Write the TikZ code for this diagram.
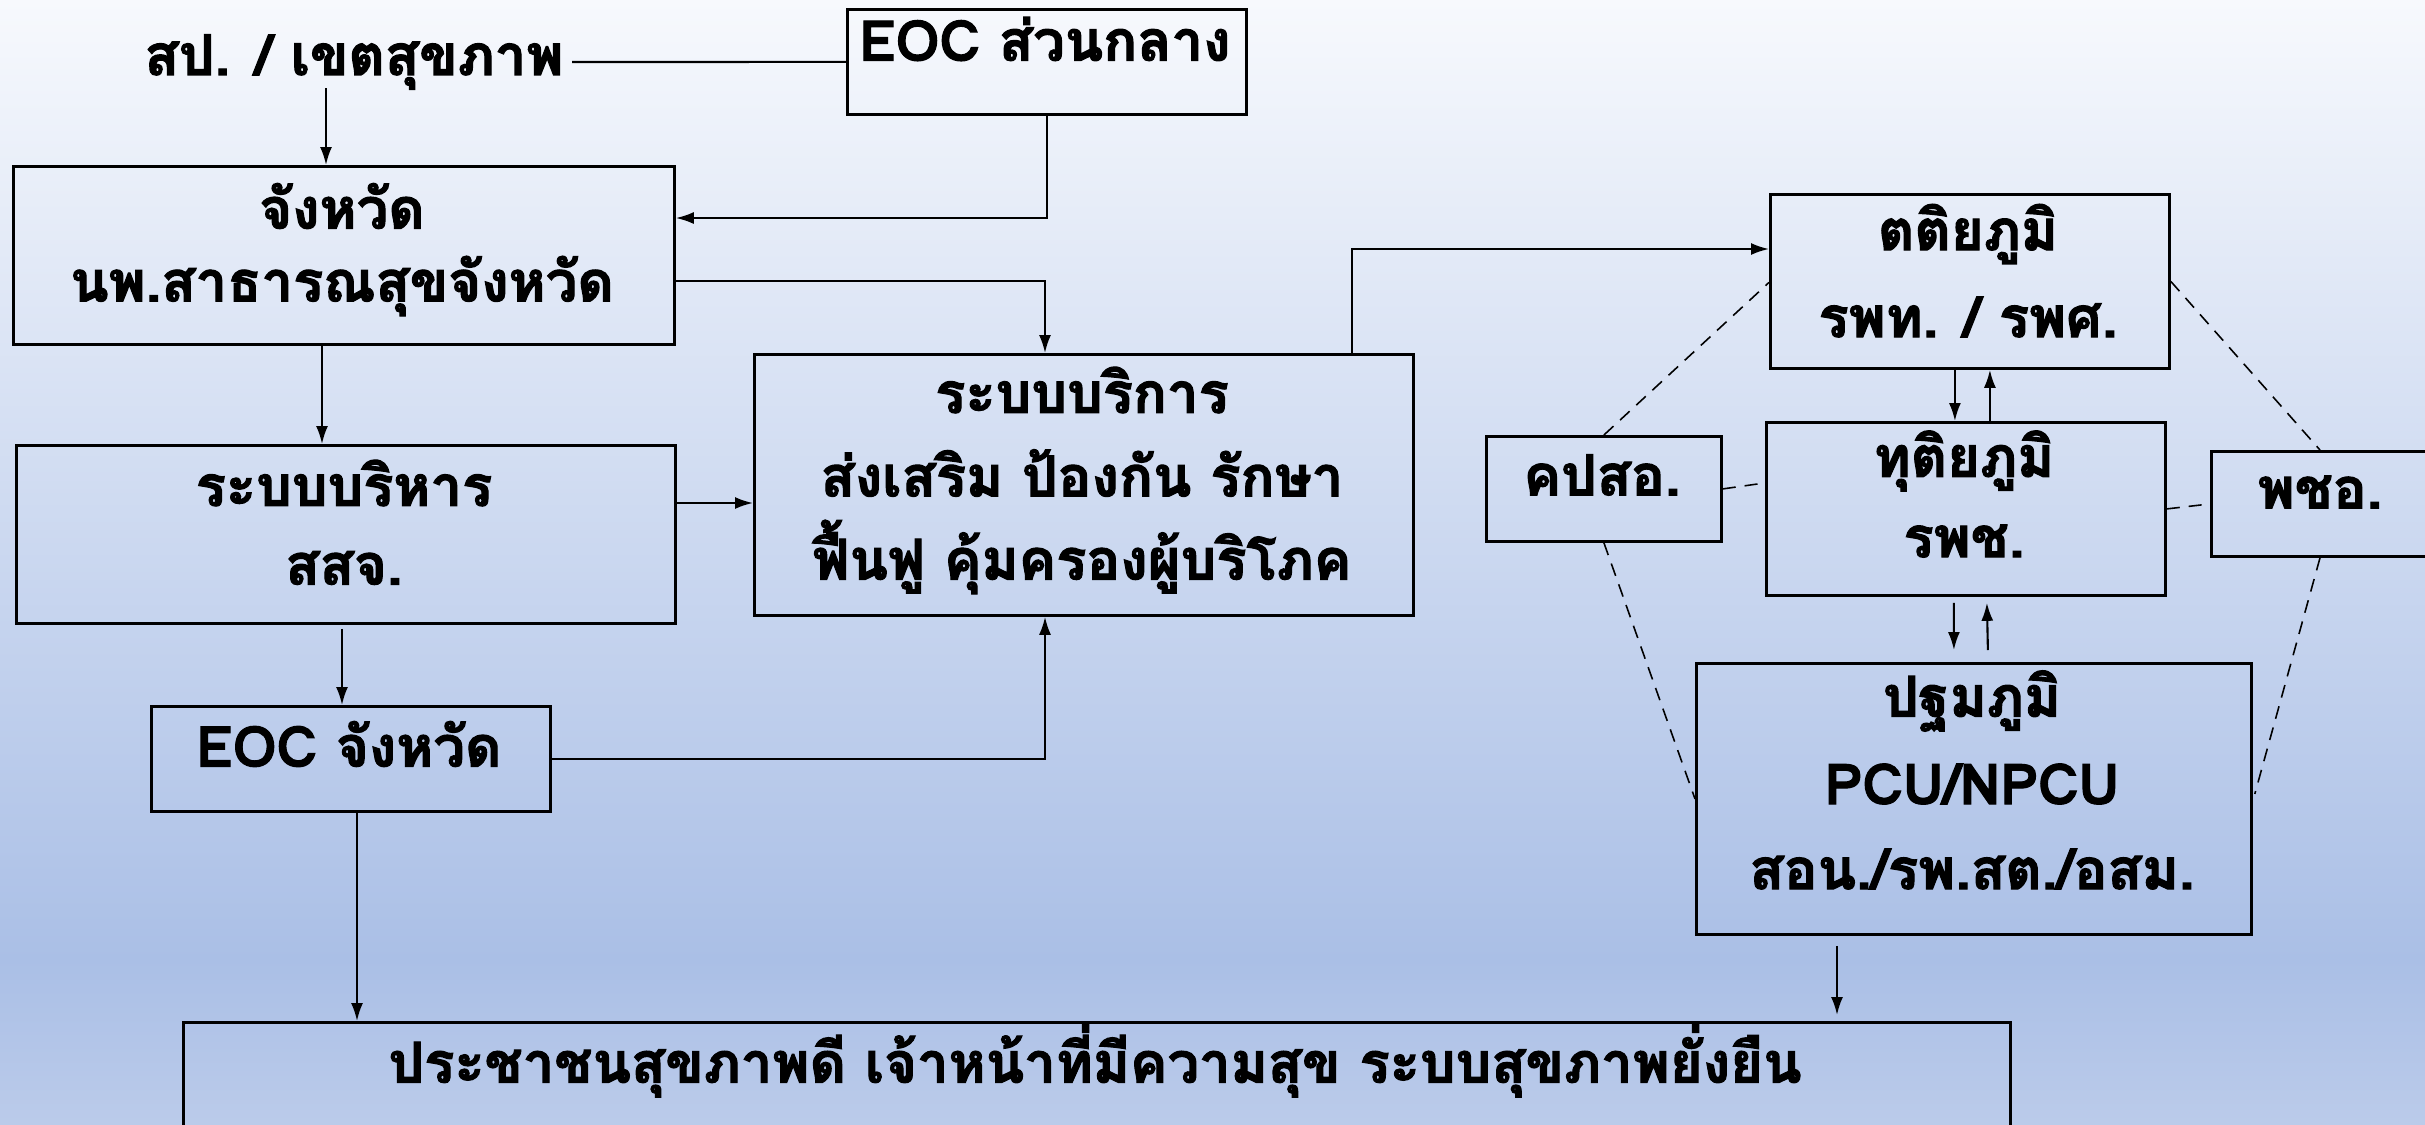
\documentclass[tikz,border=0pt]{standalone}
\usepackage{fontspec}
\setmainfont[Script=Thai,BoldFeatures={FakeBold=2}]{Loma}
\usetikzlibrary{calc,arrows.meta}
\definecolor{bgtop}{HTML}{F7F9FD}
\definecolor{bgmid}{HTML}{AABFE6}
\definecolor{bgbot}{HTML}{BBCBEA}
\tikzset{
  box/.style={draw=black,line width=0.8pt,anchor=north west,inner sep=0pt},
  lbl/.style={font=\fontsize{16}{18}\selectfont\bfseries,inner sep=0pt,anchor=center},
  arr/.style={draw=black,line width=0.6pt,-{Latex[length=1.8mm,width=1.2mm]}},
  ln/.style={draw=black,line width=0.6pt},
  dsh/.style={draw=black,line width=0.45pt,dash pattern=on 1.3mm off 0.9mm}
}
\begin{document}
\begin{tikzpicture}[x=0.1mm,y=-0.1mm]
\useasboundingbox (0,0) rectangle (2425,1124);
\clip (0,0) rectangle (2425,1124);
\shade[top color=bgtop,bottom color=bgmid] (0,0) rectangle (2425,960);
\shade[top color=bgmid,bottom color=bgbot] (0,959) rectangle (2425,1124);
% boxes
\node[box,minimum width=39.9mm,minimum height=10.5mm] (eoc0) at (846,8) {};
\node[box,minimum width=66.1mm,minimum height=17.8mm] (prov) at (12,165) {};
\node[box,minimum width=65.9mm,minimum height=26.1mm] (svc) at (753,353) {};
\node[box,minimum width=65.9mm,minimum height=17.8mm] (adm) at (15,444) {};
\node[box,minimum width=39.9mm,minimum height=10.5mm] (eocp) at (150,705) {};
\node[box,minimum width=182.7mm,minimum height=25mm] (goal) at (182,1021) {};
\node[box,minimum width=39.9mm,minimum height=17.4mm] (t3) at (1769,193) {};
\node[box,minimum width=39.9mm,minimum height=17.3mm] (t2) at (1765,421) {};
\node[box,minimum width=55.5mm,minimum height=27.1mm] (t1) at (1695,662) {};
\node[box,minimum width=23.5mm,minimum height=10.5mm] (kps) at (1485,435) {};
\node[box,minimum width=30mm,minimum height=10.5mm] (pcho) at (2210,450) {};
% texts
\node[lbl] (sp) at (354,62) {สป. / เขตสุขภาพ};
\node[lbl] (eoc0t) at (1045,39) {EOC ส่วนกลาง};
\node[lbl] (provt1) at (342,206) {จังหวัด};
\node[lbl] (provt2) at (342,286) {นพ.สาธารณสุขจังหวัด};
\node[lbl] (svct1) at (1082,390) {ระบบบริการ};
\node[lbl] (svct2) at (1082,473) {ส่งเสริม ป้องกัน รักษา};
\node[lbl] (svct3) at (1082,557) {ฟื้นฟู คุ้มครองผู้บริโภค};
\node[lbl] (admt1) at (344,483) {ระบบบริหาร};
\node[lbl] (admt2) at (344,568) {สสจ.};
\node[lbl] (eocpt) at (349,744) {EOC จังหวัด};
\node[lbl] (goalt) at (1095,1061) {ประชาชนสุขภาพดี เจ้าหน้าที่มีความสุข ระบบสุขภาพยั่งยืน};
\node[lbl] (t3t1) at (1968,234) {ตติยภูมิ};
\node[lbl] (t3t2) at (1968,317) {รพท. / รพศ.};
\node[lbl] (t2t1) at (1964,461) {ทุติยภูมิ};
\node[lbl] (t2t2) at (1964,541) {รพช.};
\node[lbl] (t1t1) at (1972,701) {ปฐมภูมิ};
\node[lbl] (t1t2) at (1972,784) {PCU/NPCU};
\node[lbl] (t1t3) at (1972,869) {สอน./รพ.สต./อสม.};
\node[lbl] (kpst) at (1602,475) {คปสอ.};
\node[lbl] (pchot) at (2320,492) {พชอ.};
% connectors
\draw[ln,shorten <=0.8mm] (sp.east) -- (eoc0.west);
\coordinate (a1) at (326,88);
\draw[arr] (a1) -- (a1 |- prov.north);
\draw[arr] (eoc0.south) |- ($(prov.north east)+(0,53)$);
\draw[arr] ($(prov.north east)+(0,116)$) -| ($(svc.north west)+(292,0)$);
\draw[arr] ($(prov.south west)+(310,0)$) -- ($(adm.north west)+(307,0)$);
\draw[arr] ($(adm.north east)+(0,59)$) -- ($(svc.north west)+(0,150)$);
\draw[arr] ($(adm.south west)+(327,4)$) -- ($(eocp.north west)+(192,0)$);
\draw[arr] (eocp.east) -| ($(svc.south west)+(292,0)$);
\draw[arr] ($(eocp.south west)+(207,0)$) -- ($(goal.north west)+(175,0)$);
\draw[arr] ($(svc.north west)+(599,0)$) |- ($(t3.north west)+(0,56)$);
\draw[arr] ($(t3.south)+(-15,0)$) -- ($(t2.north)+(-11,0)$);
\draw[arr] ($(t2.north)+(24,0)$) -- ($(t3.south)+(20,0)$);
\draw[arr] ($(t2.south)+(-12,6)$) -- ($(t1.north)+(-20,-12)$);
\draw[arr] ($(t1.north)+(14,-12)$) -- ($(t2.south)+(21,6)$);
\draw[arr] ($(t1.south west)+(142,10)$) -- ($(goal.north west)+(1655,-6)$);
% dashed links
\draw[dsh] (kps.north) -- ($(t3.west)+(0,1)$);
\draw[dsh] (kps.east) -- ($(t2.west)+(0,-26)$);
\draw[dsh] (kps.south) -- (t1.west);
\draw[dsh] (t3.east) -- ($(pcho.north west)+(110,0)$);
\draw[dsh] (t2.east) -- (pcho.west);
\draw[dsh] ($(pcho.south west)+(110,0)$) -- ($(t1.east)+(2,-5)$);
\end{tikzpicture}
\end{document}
